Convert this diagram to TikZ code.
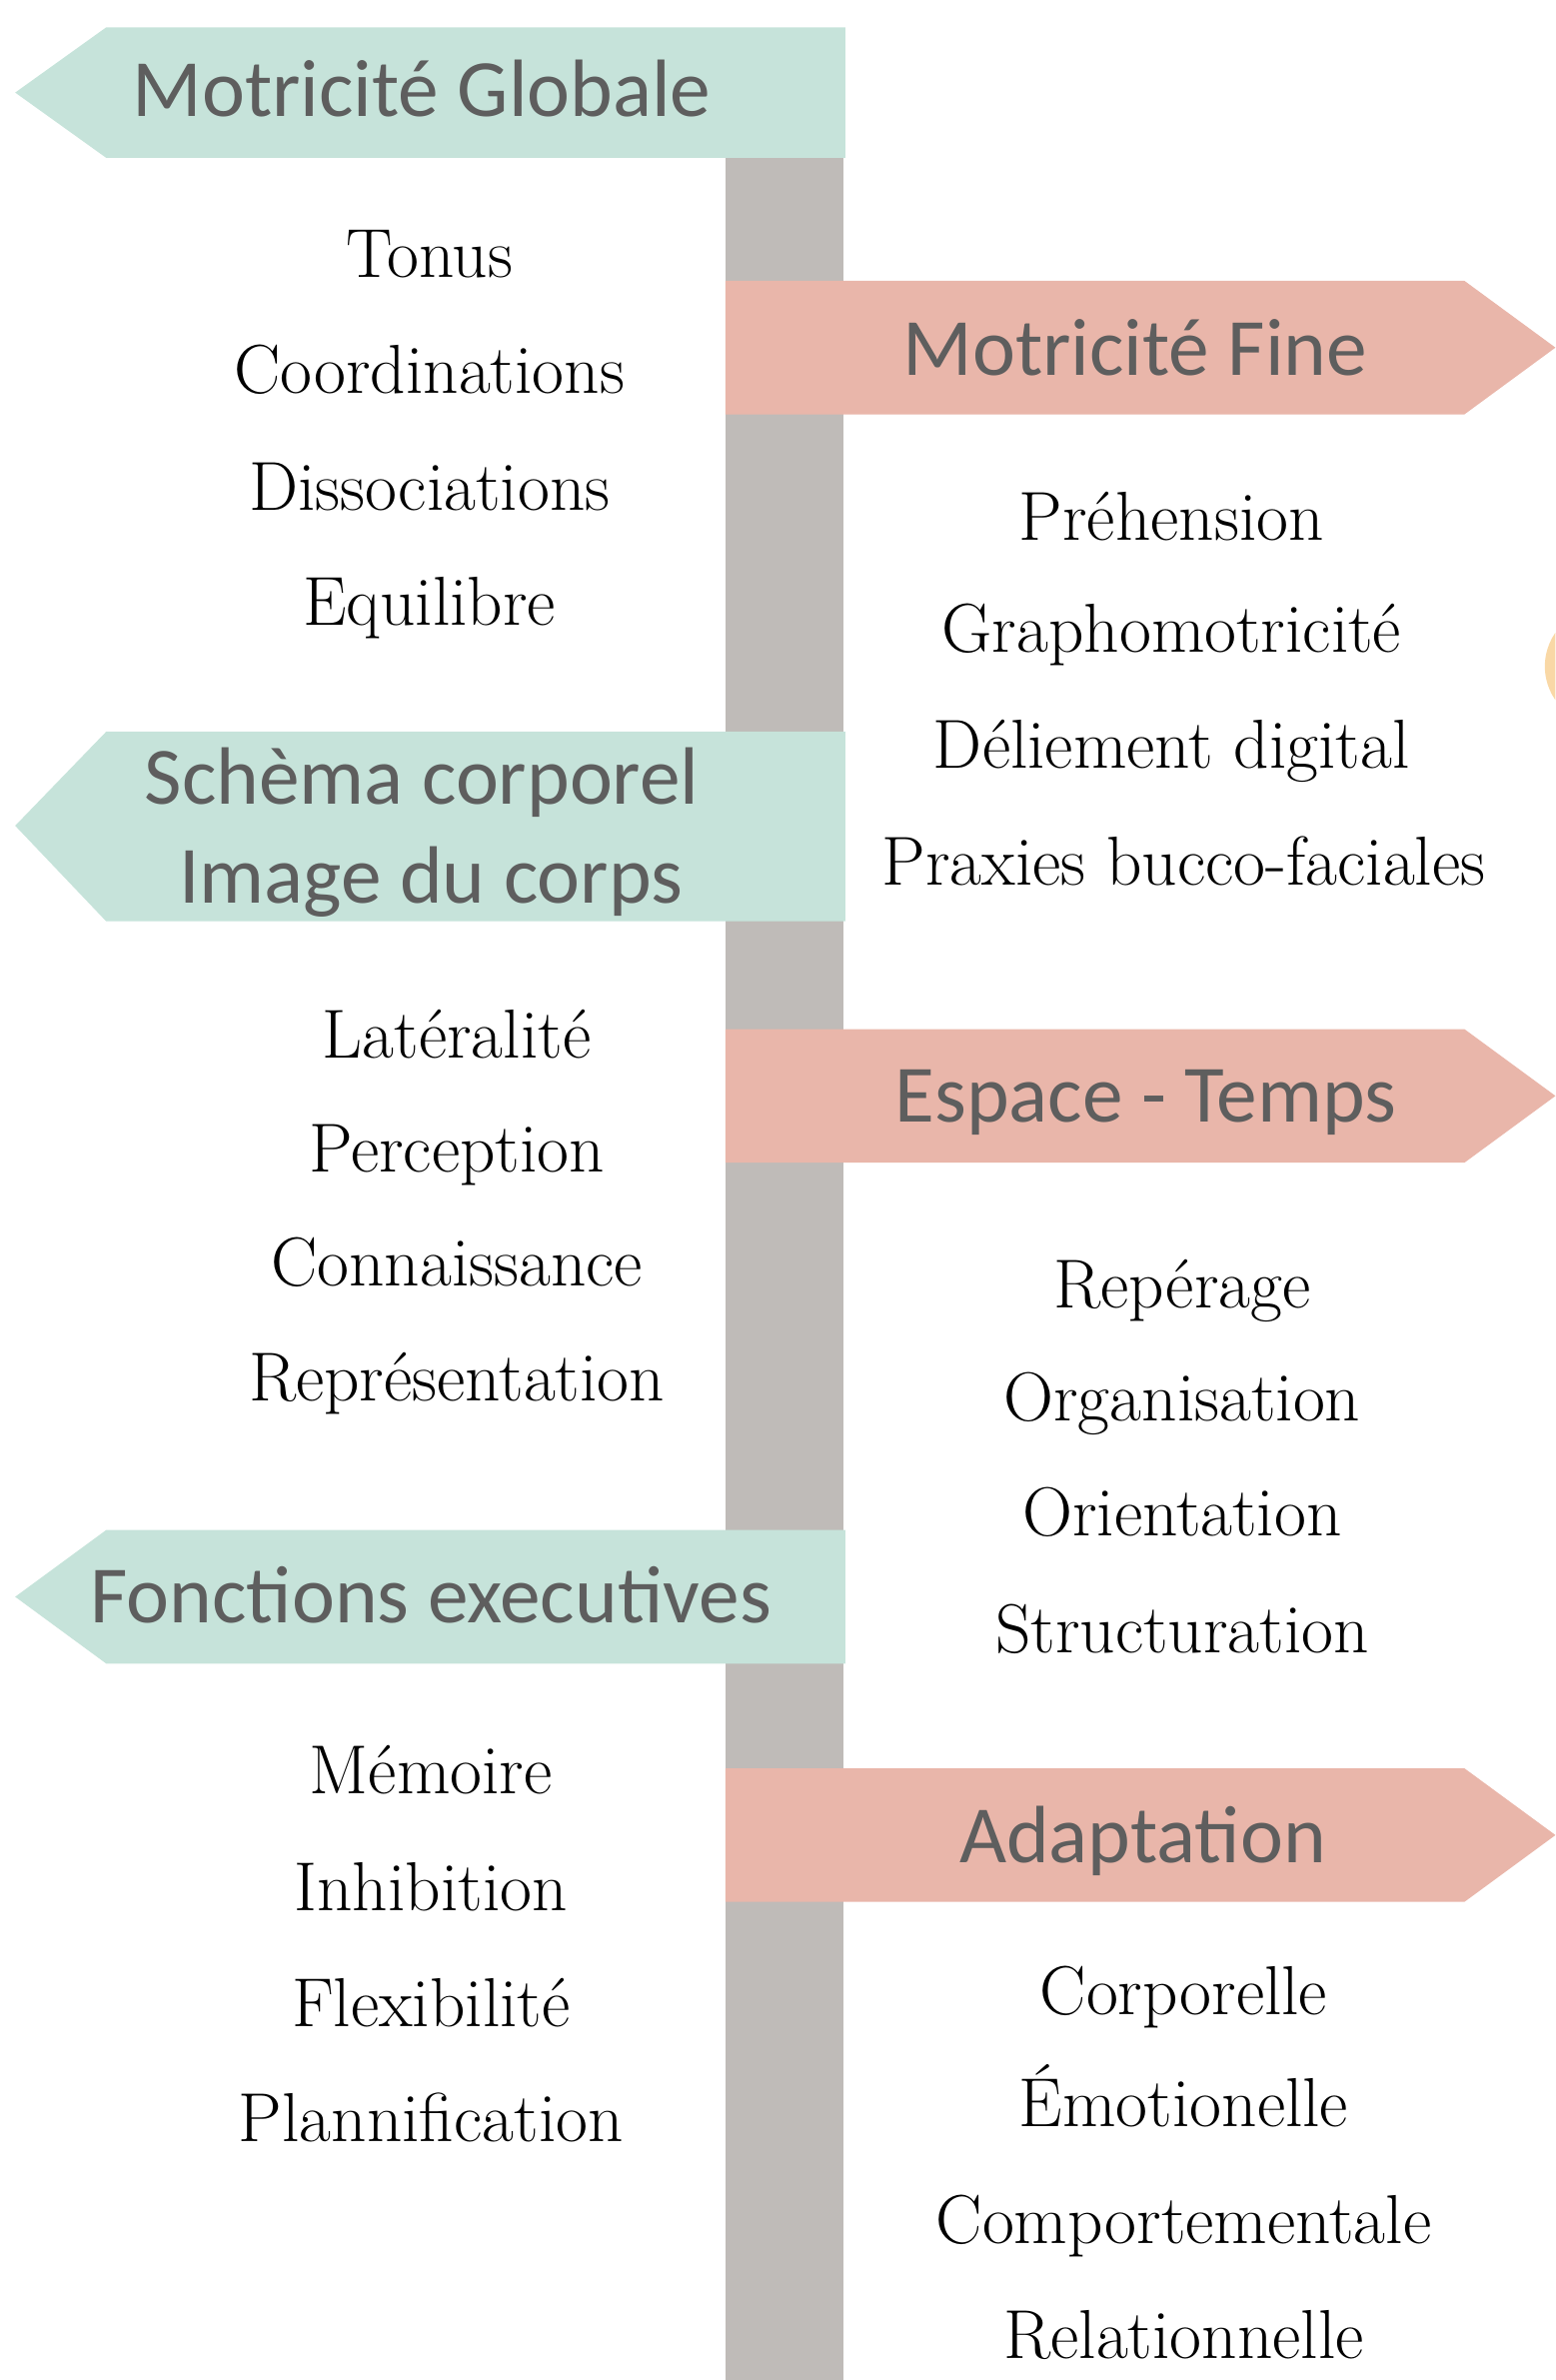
\documentclass[tikz,border=0pt]{standalone}
\usepackage{fontspec}
\newfontfamily\signfont{Carlito}
\definecolor{signgreen}{HTML}{C6E3DA}
\definecolor{signpink}{HTML}{E9B6AA}
\definecolor{postgrey}{HTML}{BFBBB8}
\definecolor{signgrey}{HTML}{5E5E5E}
\definecolor{dotorange}{HTML}{F9D8A6}

\begin{document}
\begin{tikzpicture}[x=0.02cm,y=-0.02cm,
  signtext/.style={font=\signfont\fontsize{30.5}{36}\selectfont,text=signgrey,anchor=base,inner sep=0pt},
  itemtext/.style={font=\fontsize{26}{30}\selectfont,anchor=base,inner sep=0pt}]
\pgfmathsetmacro{\postl}{478}
\pgfmathsetmacro{\postr}{556}
\pgfmathsetmacro{\tip}{60}
\pgfmathsetmacro{\board}{487}
\clip (0,0) rectangle (1025,1568);
\fill[postgrey] (\postl,104) rectangle (\postr,1568);
\fill[dotorange] (1057,439) circle[radius=39];
% signs pointing left
\fill[signgreen] (557,18) -- ++(-\board,0) -- ++(-\tip,43) -- ++(\tip,43) -- ++(\board,0) -- cycle;
\fill[signgreen] (557,482) -- ++(-\board,0) -- ++(-\tip,62) -- ++(\tip,63) -- ++(\board,0) -- cycle;
\fill[signgreen] (557,1008) -- ++(-\board,0) -- ++(-\tip,44) -- ++(\tip,44) -- ++(\board,0) -- cycle;
% signs pointing right
\fill[signpink] (\postl,185) -- ++(\board,0) -- ++(\tip,44) -- ++(-\tip,44) -- ++(-\board,0) -- cycle;
\fill[signpink] (\postl,678) -- ++(\board,0) -- ++(\tip,44) -- ++(-\tip,44) -- ++(-\board,0) -- cycle;
\fill[signpink] (\postl,1165) -- ++(\board,0) -- ++(\tip,44) -- ++(-\tip,44) -- ++(-\board,0) -- cycle;
% sign labels
\node[signtext] (globale) at (278,77) {Motricité Globale};
\node[signtext] (fine) at (748,247) {Motricité Fine};
\node[signtext] (schema) at (278,530) {Schèma corporel};
\node[signtext] (image) at (284,595) {Image du corps};
\node[signtext] (espace) at (755,739) {Espace - Temps};
\node[signtext] (fonctions) at (284,1069) {Fonctions executives};
\node[signtext] (adaptation) at (753,1227) {Adaptation};
% items
\node[itemtext] (tonus) at (283,183) {Tonus};
\node[itemtext] (coordinations) at (283,259) {Coordinations};
\node[itemtext] (dissociations) at (283,336) {Dissociations};
\node[itemtext] (equilibre) at (283,412) {Equilibre};
\node[itemtext] (prehension) at (772,356) {Préhension};
\node[itemtext] (grapho) at (772,430) {Graphomotricité};
\node[itemtext] (deliement) at (772,506) {Déliement digital};
\node[itemtext] (praxies) at (780,583) {Praxies bucco-faciales};
\node[itemtext] (lateralite) at (301,697) {Latéralité};
\node[itemtext] (perception) at (301,772) {Perception};
\node[itemtext] (connaissance) at (301,847) {Connaissance};
\node[itemtext] (representation) at (301,923) {Représentation};
\node[itemtext] (reperage) at (779,862) {Repérage};
\node[itemtext] (organisation) at (779,936) {Organisation};
\node[itemtext] (orientation) at (779,1012) {Orientation};
\node[itemtext] (structuration) at (779,1089) {Structuration};
\node[itemtext] (memoire) at (284,1182) {Mémoire};
\node[itemtext] (inhibition) at (284,1259) {Inhibition};
\node[itemtext] (flexibilite) at (284,1335) {Flexibilité};
\node[itemtext] (plannification) at (284,1411) {Plannification};
\node[itemtext] (corporelle) at (780,1327) {Corporelle};
\node[itemtext] (emotionelle) at (780,1401) {Émotionelle};
\node[itemtext] (comportementale) at (780,1478) {Comportementale};
\node[itemtext] (relationnelle) at (780,1554) {Relationnelle};
\end{tikzpicture}
\end{document}
